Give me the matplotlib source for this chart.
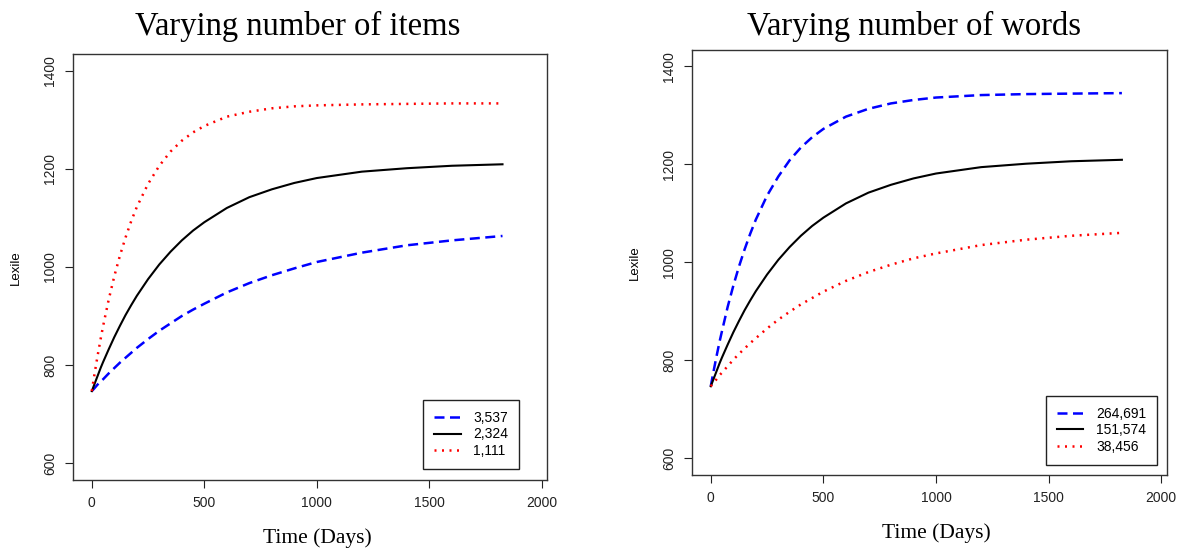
import numpy as np
import matplotlib.pyplot as plt

# values (Lexile over time in days)
days = [0, 10, 25, 40, 50, 75, 100, 125, 150, 175, 200, 250, 300, 350, 400, 450,
        500, 600, 700, 800, 900, 1000, 1200, 1400, 1600, 1825]

# panel 1: varying number of items
items_labels = ['3,537', '2,324', '1,111']
items_3537 = [747, 752, 760, 767, 771, 783, 794, 805, 815, 825, 835, 853, 870, 885, 900, 913,
              925, 948, 967, 983, 997, 1010, 1029, 1044, 1054, 1063]
items_2324 = [747, 759, 777, 795, 806, 832, 857, 880, 902, 922, 941, 975, 1005, 1031, 1054, 1074,
              1091, 1120, 1142, 1158, 1171, 1181, 1194, 1201, 1206, 1209]
items_1111 = [747, 776, 817, 855, 879, 933, 981, 1023, 1060, 1093, 1122, 1169, 1206, 1235, 1257, 1274,
              1287, 1306, 1316, 1323, 1327, 1329, 1331, 1332, 1333, 1333]

# panel 2: varying number of words
words_labels = ['264,691', '151,574', '38,456']
words_264691 = [747, 772, 807, 840, 860, 909, 952, 991, 1026, 1058, 1087, 1136, 1175, 1208, 1234, 1255,
                1272, 1297, 1313, 1324, 1331, 1336, 1341, 1343, 1344, 1345]
words_151574 = [747, 759, 777, 795, 806, 832, 857, 880, 902, 922, 941, 975, 1005, 1031, 1054, 1074,
                1091, 1120, 1142, 1158, 1171, 1181, 1194, 1201, 1206, 1209]
words_38456 = [747, 753, 761, 770, 775, 788, 801, 813, 824, 835, 845, 865, 883, 899, 914, 927,
               940, 962, 980, 995, 1008, 1018, 1035, 1046, 1054, 1060]

serif = 'Liberation Serif'
sans = 'Liberation Sans'

fig = plt.figure(figsize=(11.81, 5.48), dpi=100)
ax1 = fig.add_axes([0.0621, 0.1241, 0.4013, 0.7768])
ax2 = fig.add_axes([0.5862, 0.1332, 0.4017, 0.7756])


def draw_panel(ax, top, mid, low, labels, title, title_x, leg_anchor):
    # blue dashed, black solid, red dotted -- same order as the legend
    ax.plot(days, top, color='blue', lw=1.8, dashes=(4, 2.2), label=labels[0])
    ax.plot(days, mid, color='black', lw=1.5, label=labels[1])
    ax.plot(days, low, color='red', lw=1.8, dashes=(0.8, 2.2), label=labels[2])

    ax.set_xlim(-82, 2024)
    ax.set_ylim(566, 1433)
    ax.set_xticks([0, 500, 1000, 1500, 2000])
    ax.set_yticks([600, 800, 1000, 1200, 1400])
    ax.tick_params(direction='out', length=5.8, width=0.8, labelsize=10,
                   colors='#222222', pad=6)
    for lab in ax.get_xticklabels() + ax.get_yticklabels():
        lab.set_fontfamily(sans)
    for lab in ax.get_yticklabels():
        lab.set_rotation(90)
        lab.set_va('center')
    for sp in ax.spines.values():
        sp.set_color('#333333')
        sp.set_linewidth(1.0)

    ax.set_xlabel('Time (Days)', fontsize=15.5, fontfamily=serif, labelpad=13, x=0.515)
    ax.set_ylabel('Lexile', fontsize=9.5, fontfamily=sans, labelpad=15)
    fig.text(title_x, 1 - 35 / 548, title, ha='center', va='baseline',
             fontsize=23.5, fontfamily=serif)

    leg = ax.legend(loc='lower right', bbox_to_anchor=leg_anchor, borderaxespad=0,
                    fancybox=False, edgecolor='#222222', framealpha=1,
                    prop={'family': sans, 'size': 10}, handlelength=1.9,
                    handletextpad=0.9, labelspacing=0.17, borderpad=0.8)
    leg.get_frame().set_linewidth(1.0)


draw_panel(ax1, items_3537, items_2324, items_1111, items_labels,
           'Varying number of items', 298 / 1181, (0.941, 0.026))
draw_panel(ax2, words_264691, words_151574, words_38456, words_labels,
           'Varying number of words', 914 / 1181, (0.98, 0.024))

plt.savefig('out.png', dpi=100)
